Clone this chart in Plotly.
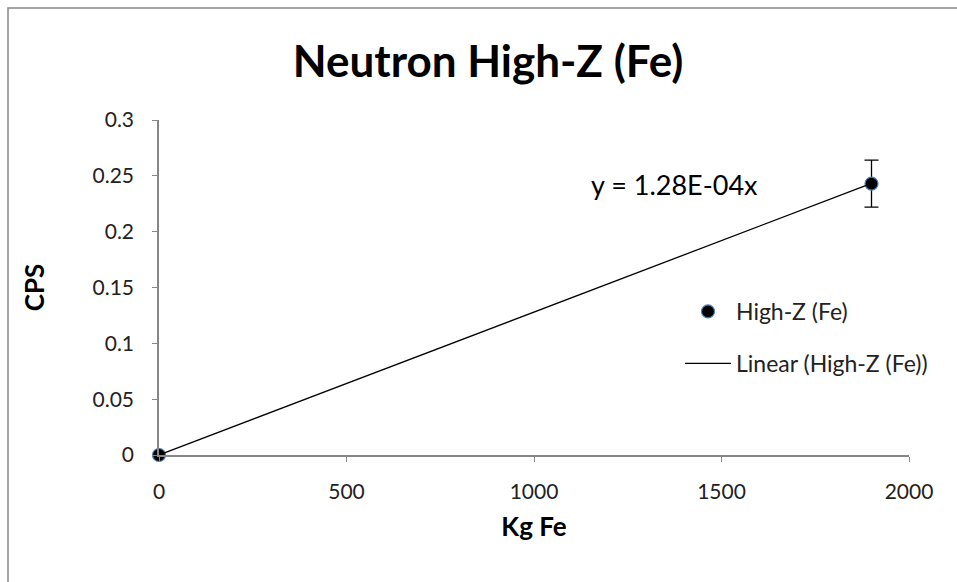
import plotly.graph_objects as go

kg_fe = [0, 1900]
cps = [0.0, 0.243]
cps_err = [0.0, 0.021]
slope = 1.28e-4
x_ticks = [0, 500, 1000, 1500, 2000]
y_ticks = [0, 0.05, 0.1, 0.15, 0.2, 0.25, 0.3]
y_tick_labels = ["0", "0.05", "0.1", "0.15", "0.2", "0.25", "0.3"]

FONT = "Lato, 'Open Sans', sans-serif"
AX = "#868686"

# plot-area pixel geometry helpers
L, R, T, B = 159, 909, 120, 455
W, H = R - L, B - T


def px(xp):
    return (xp - L) / W


def py(yp):
    return (B - yp) / H


fig = go.Figure()
fig.add_trace(go.Scatter(
    x=kg_fe, y=cps, mode="markers", name="High-Z (Fe)",
    marker=dict(color="black", size=13, line=dict(color="#4a7ebb", width=1.2)),
    error_y=dict(type="data", array=cps_err, color="black", thickness=1.3, width=7),
    legendgroup="a", cliponaxis=False,
))
fig.add_trace(go.Scatter(
    x=kg_fe, y=[slope * v for v in kg_fe], mode="lines", name="Linear (High-Z (Fe))",
    line=dict(color="black", width=1.3),
    legendgroup="b", cliponaxis=False,
))

fig.update_layout(
    width=957, height=582,
    margin=dict(l=L, r=957 - R, t=T, b=582 - B),
    paper_bgcolor="white", plot_bgcolor="white",
    font=dict(family=FONT, color="#222"),
    title=dict(text="<b>Neutron High-Z (Fe)</b>", x=488 / 957, xanchor="center",
               y=1 - 62 / 582, yanchor="middle", font=dict(size=44, color="black")),
    showlegend=True,
    legend=dict(x=px(680), y=py(290), xanchor="left", yanchor="top",
                traceorder="grouped", tracegroupgap=19, itemwidth=46,
                font=dict(size=23, color="#222"), bgcolor="rgba(0,0,0,0)"),
    xaxis=dict(range=[0, 2000], tickvals=x_ticks, ticks="outside", ticklen=5,
               tickcolor=AX, showline=True, linecolor=AX, linewidth=1.5,
               showgrid=False, zeroline=False, tickfont=dict(size=21, color="#222"),
               ticklabelstandoff=12,
               title=dict(text="<b>Kg Fe</b>", font=dict(size=26, color="black"), standoff=16)),
    yaxis=dict(range=[0, 0.3], tickvals=y_ticks, ticktext=y_tick_labels, ticks="outside",
               ticklen=5, tickcolor=AX, showline=True, linecolor=AX, linewidth=1.5,
               showgrid=False, zeroline=False, tickfont=dict(size=21, color="#222"),
               ticklabelstandoff=14,
               title=dict(text="<b>CPS</b>", font=dict(size=26, color="black"), standoff=40)),
    annotations=[dict(text="y = 1.28E-04x", x=px(674), y=py(184), xref="paper", yref="paper",
                      xanchor="center", yanchor="middle",
                      showarrow=False, font=dict(size=27, color="black"))],
)

# chart border (outer frame)
fig.add_shape(type="rect", xref="paper", yref="paper",
              x0=px(8), x1=px(975), y0=py(600), y1=py(8),
              line=dict(color="#888888", width=1.5), layer="below")

fig.write_html("out.html")
